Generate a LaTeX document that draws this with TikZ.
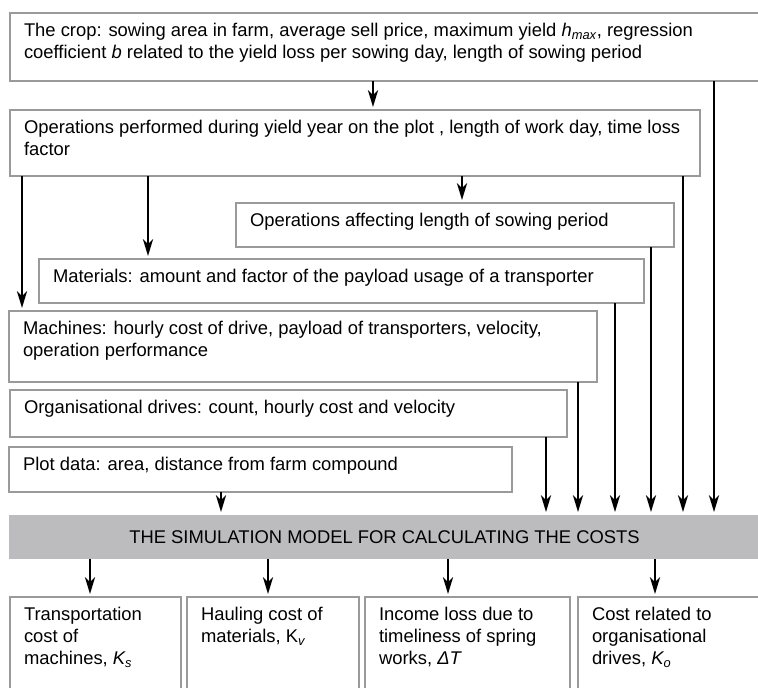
\documentclass[tikz,border=0pt]{standalone}
\usepackage{fontspec}
\setmainfont{Liberation Sans}
\usepackage{tikz}
\usetikzlibrary{arrows.meta}

\definecolor{boxgray}{HTML}{9A9A9A}
\definecolor{simgray}{HTML}{BCBCBE}
\newlength{\pxu}\setlength{\pxu}{0.75pt}
\newcommand{\boxtext}[3]{\parbox[t][#2\pxu][t]{#1\pxu}{\raggedright #3}}

\begin{document}
\begin{tikzpicture}[x=0.75pt,y=-0.75pt,
  inbox/.style={draw=boxgray,line width=1.3pt,anchor=north west,outer sep=0pt,
    inner xsep=10.5pt,inner ysep=7.9pt,font=\fontsize{13.8}{16.5}\selectfont},
  simband/.style={fill=simgray,anchor=north west,outer sep=0pt,inner sep=0pt,
    minimum width=751\pxu,minimum height=44\pxu,font=\fontsize{13.8}{16.5}\selectfont},
  arr/.style={line width=1.7pt,-{Stealth[length=12.5pt,width=7.5pt,inset=3.5pt]},shorten >=2.25pt}]
  \useasboundingbox (0,0) rectangle (758,687);
  \clip (0,0) rectangle (758,687);

  \node[inbox] (crop) at (10,13) {\boxtext{732}{47}{The crop: sowing area in farm, average sell price, maximum yield \textit{h\textsubscript{max}}, regression\\coefficient \textit{b} related to the yield loss per sowing day, length of sowing period}};
  \node[inbox] (ops) at (10,110) {\boxtext{662}{45}{Operations performed during yield year on the plot , length of work day, time loss\\factor}};
  \node[inbox] (affect) at (236,203) {\boxtext{410}{23}{Operations affecting length of sowing period}};
  \node[inbox] (mater) at (39,259) {\boxtext{577}{23}{Materials: amount and factor of the payload usage of a transporter}};
  \node[inbox] (mach) at (9,311) {\boxtext{560}{50}{Machines: hourly cost of drive, payload of transporters, velocity,\\operation performance}};
  \node[inbox] (org) at (10,390) {\boxtext{529}{26}{Organisational drives: count, hourly cost and velocity}};
  \node[inbox] (plot) at (9,447) {\boxtext{475}{24}{Plot data: area, distance from farm compound}};

  \node[simband] (sim) at (9,515) {THE SIMULATION MODEL FOR CALCULATING THE COSTS};

  \node[inbox] (ks) at (10,597) {\boxtext{143}{87}{Transportation\\cost of\\machines, \textit{K\textsubscript{s}}}};
  \node[inbox] (kv) at (187,597) {\boxtext{144}{87}{Hauling cost of\\materials, K\textsubscript{\textit{v}}}};
  \node[inbox] (dt) at (365,597) {\boxtext{177}{87}{Income loss due to\\timeliness of spring\\works, \textit{ΔT}}};
  \node[inbox] (ko) at (578,597) {\boxtext{164}{87}{Cost related to\\organisational\\drives, \textit{K\textsubscript{o}}}};

  \draw[arr] (crop.south -| 373,0) -- (ops.north -| 373,0);
  \draw[arr] (ops.south -| 22,0) -- (mach.north -| 22,0);
  \draw[arr] (ops.south -| 148,0) -- (mater.north -| 148,0);
  \draw[arr] (ops.south -| 462,0) -- (affect.north -| 462,0);

  \draw[arr] (crop.south -| 714,0) -- (sim.north -| 714,0);
  \draw[arr] (ops.south -| 683,0) -- (sim.north -| 683,0);
  \draw[arr] (affect.south -| 651,0) -- (sim.north -| 651,0);
  \draw[arr] (mater.south -| 615,0) -- (sim.north -| 615,0);
  \draw[arr] (mach.south -| 578,0) -- (sim.north -| 578,0);
  \draw[arr] (org.south -| 546,0) -- (sim.north -| 546,0);
  \draw[arr] (plot.south -| 221,0) -- (sim.north -| 221,0);

  \draw[arr] (sim.south -| 90,0) -- (ks.north -| 90,0);
  \draw[arr] (sim.south -| 268,0) -- (kv.north -| 268,0);
  \draw[arr] (sim.south -| 448,0) -- (dt.north -| 448,0);
  \draw[arr] (sim.south -| 655,0) -- (ko.north -| 655,0);
\end{tikzpicture}
\end{document}
